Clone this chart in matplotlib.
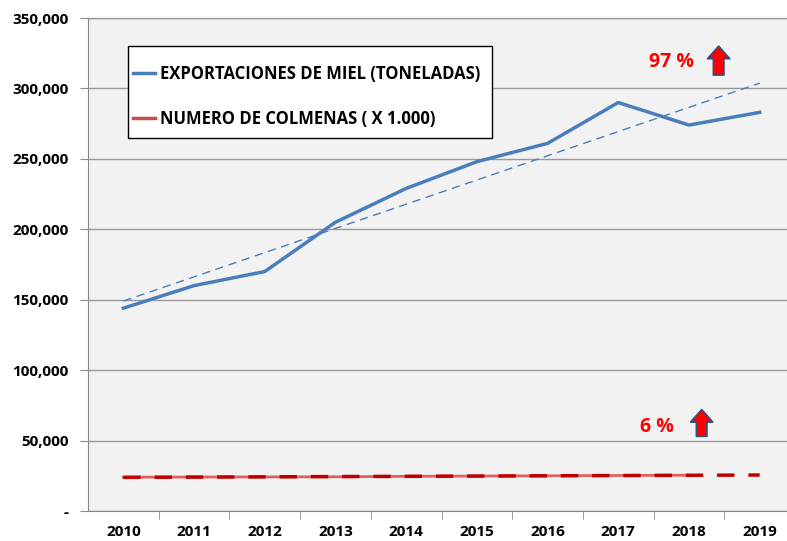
import matplotlib.pyplot as plt
from matplotlib.patches import Rectangle
import numpy as np

plt.rcParams['font.family'] = ['Open Sans', 'DejaVu Sans']

years = ['2010', '2011', '2012', '2013', '2014', '2015', '2016', '2017', '2018', '2019']
exportaciones = [144000, 160000, 170000, 205000, 229000, 248000, 261000, 290000, 274000, 283000]
colmenas = [24000, 24100, 24200, 24300, 24600, 24800, 25000, 25200, 25400]
yticks = [0, 50000, 100000, 150000, 200000, 250000, 300000, 350000]
ylabels = ['-', '50,000', '100,000', '150,000', '200,000', '250,000', '300,000', '350,000']

fig = plt.figure(figsize=(7.87, 5.41), dpi=100)
ax = fig.add_axes([88/787, 30/541, 707/787, 493/541])
ax.set_facecolor('#f2f2f2')

x = np.arange(len(years))
xc = np.arange(len(colmenas))

ax.plot(x, exportaciones, color='#4a7ebb', lw=2.5, label='EXPORTACIONES DE MIEL (TONELADAS)', zorder=3)
ax.plot(xc, colmenas, color='#e06060', lw=2, zorder=3)

# tendencias lineales
p = np.polyfit(x, exportaciones, 1)
ax.plot(x, np.polyval(p, x), color='#4a7ebb', lw=1, ls=(0, (6, 4)), zorder=3)
pc = np.polyfit(xc, colmenas, 1)
ax.plot(x, np.polyval(pc, x), color='#c00000', lw=2.5, ls=(0, (5, 4)), zorder=4)
ax.plot([], [], color='#c0504d', lw=2.5, label='NUMERO DE COLMENAS ( X 1.000)')

ax.set_xlim(-0.5, 9.5)
ax.set_ylim(0, 350000)
ax.set_yticks(yticks)
ax.set_yticklabels(ylabels, fontweight='bold', fontsize=11)
ax.set_xticks(x)
ax.set_xticklabels(years, fontweight='bold', fontsize=11)
ax.set_xticks(np.arange(0.5, 9.5, 1), minor=True)
ax.tick_params(axis='x', which='major', length=0, pad=10)
ax.tick_params(axis='x', which='minor', length=6, color='#888888', direction='out')
ax.tick_params(axis='y', length=6, color='#888888', pad=8)
ax.grid(axis='y', color='#999999', lw=1)
ax.set_axisbelow(True)
for s in ['top', 'right']:
    ax.spines[s].set_visible(False)
for s in ['left', 'bottom']:
    ax.spines[s].set_color('#888888')
ax.plot([-0.5, 9.5], [350000, 350000], color='#999999', lw=1, clip_on=False)

# cuadro de la leyenda
ax.add_patch(Rectangle((0.0566, 0.7566), 0.5148, 0.1864, transform=ax.transAxes,
                       fc='white', ec='black', lw=1, zorder=5))
leg = ax.legend(loc='upper left', bbox_to_anchor=(0.0637, 0.904), frameon=False,
                prop={'weight': 'bold', 'size': 12},
                handlelength=1.3, handletextpad=0.3, labelspacing=1.6, borderpad=0,
                borderaxespad=0)
leg.set_zorder(6)

ax.text(7.76, 319000, '97 %', color='red', fontsize=14, fontweight='bold', ha='center', va='center')
ax.text(7.55, 59700, '6 %', color='red', fontsize=14, fontweight='bold', ha='center', va='center')
arrow = dict(arrowstyle='simple,head_width=0.8,head_length=0.45,tail_width=0.38', fc='red',
             ec='#2f4f7f', lw=1.2, mutation_scale=20, shrinkA=0, shrinkB=0)
ax.annotate('', xy=(8.42, 330000), xytext=(8.42, 309500), arrowprops=arrow)
ax.annotate('', xy=(8.18, 72000), xytext=(8.18, 53000), arrowprops=arrow)

fig.savefig('out.png', dpi=100)
